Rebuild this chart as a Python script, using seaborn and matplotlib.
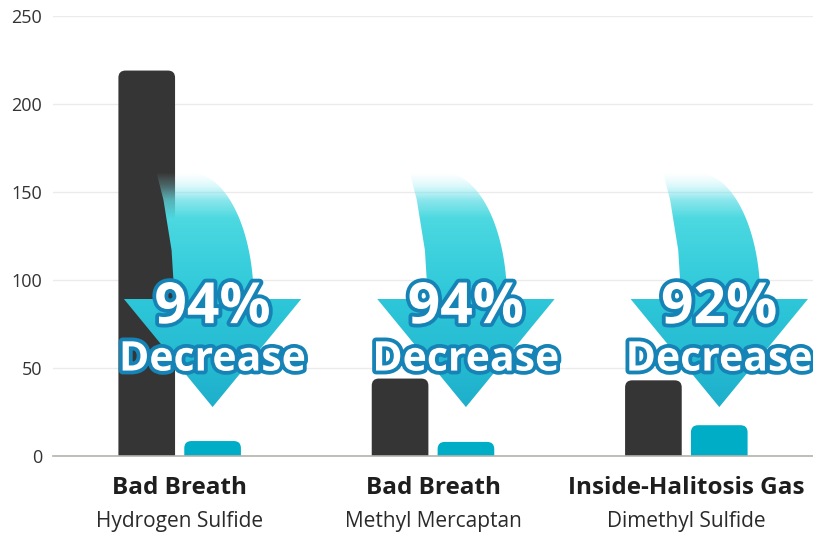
import numpy as np
import pandas as pd
import matplotlib
matplotlib.use("Agg")
import matplotlib.pyplot as plt
import matplotlib.patheffects as pe
from matplotlib.patches import FancyBboxPatch, Polygon
import seaborn as sns

# data
gases = ["Hydrogen Sulfide", "Methyl Mercaptan", "Dimethyl Sulfide"]
headers = ["Bad Breath", "Bad Breath", "Inside-Halitosis Gas"]
before = [219, 44, 43]
after = [8.5, 8, 17.5]
decrease = ["94%", "94%", "92%"]
y_ticks = [0, 50, 100, 150, 200, 250]

DARK = "#353535"
CYAN = "#00adc7"

df = pd.DataFrame({
    "gas": gases * 2,
    "stage": ["before"] * 3 + ["after"] * 3,
    "value": before + after,
})

sns.set_theme(style="white")
plt.rcParams["font.family"] = ["Open Sans", "DejaVu Sans"]

fig = plt.figure(figsize=(8.13, 5.33), dpi=100)
ax = fig.add_axes([53 / 813, 1 - 456 / 533, 1 - 53 / 813, 440 / 533])

sns.barplot(data=df, x="gas", y="value", hue="stage", palette=[DARK, CYAN],
            saturation=1, width=0.52, gap=0.14, legend=False, ax=ax)

ax.set_xlim(-0.5, 2.5)
ax.set_ylim(0, 250)
ax.set_yticks(y_ticks)
ax.set_axisbelow(True)
ax.yaxis.grid(True, color="#ebebeb", lw=1)
for s in ["top", "right", "left"]:
    ax.spines[s].set_visible(False)
ax.spines["bottom"].set_color("#b4b4ac")
ax.spines["bottom"].set_linewidth(1.2)
ax.tick_params(axis="y", length=0, pad=8, labelsize=13, labelcolor="#333333")
ax.tick_params(axis="x", length=0)
ax.set_xlabel("")
ax.set_ylabel("")
ax.set_xticklabels([])

# rounded tops for the bars
bars = list(ax.patches)
aspect = (250 / 440) / (3 / 760)
cyan_centres = []
for i, b in enumerate(bars):
    x, w, h = b.get_x(), b.get_width(), b.get_height()
    r = 0.028
    fb = FancyBboxPatch((x, -6), w, h + 6,
                        boxstyle=f"round,pad=0,rounding_size={r}",
                        mutation_aspect=aspect, fc=b.get_facecolor(),
                        ec="none", zorder=2)
    b.remove()
    ax.add_patch(fb)
    if i >= 3:
        cyan_centres.append(x + w / 2)

# curved gradient arrows
y_top, y_base, y_tip = 160.8, 89.2, 27.8
theta = np.linspace(0, np.pi / 2, 30)
grad_y = np.linspace(y_tip, y_top, 200)
stops_y = [y_tip, y_base, 115, 135, 145, 153, y_top]
stops_c = np.array([
    [0.12, 0.69, 0.80, 1.0],
    [0.18, 0.78, 0.85, 1.0],
    [0.24, 0.82, 0.87, 1.0],
    [0.30, 0.85, 0.88, 1.0],
    [0.38, 0.87, 0.90, 0.75],
    [0.50, 0.91, 0.94, 0.3],
    [0.70, 0.96, 0.98, 0.0],
])
rgba = np.stack([np.interp(grad_y, stops_y, stops_c[:, k]) for k in range(4)], axis=1)
img = rgba[:, None, :]

for cx, pct in zip(cyan_centres, decrease):
    right = [(cx - 0.083 + 0.245 * np.sin(t), y_base + (y_top - y_base) * np.cos(t)) for t in theta]
    pts = ([(cx - 0.221, y_top)] + right +
           [(cx + 0.35, y_base), (cx, y_tip), (cx - 0.35, y_base),
            (cx - 0.150, y_base), (cx - 0.162, 117), (cx - 0.194, 145.5)])
    poly = Polygon(pts, closed=True, fc="none", ec="none")
    ax.add_patch(poly)
    im = ax.imshow(img, extent=[cx - 0.36, cx + 0.36, y_tip, y_top], origin="lower",
                   aspect="auto", zorder=3, interpolation="bilinear")
    im.set_clip_path(poly)

    stroke = [pe.withStroke(linewidth=5.5, foreground="#1683b6")]
    ax.text(cx, 84.0, pct, ha="center", va="center", fontsize=41, fontweight="bold",
            color="white", zorder=5, path_effects=stroke)
    ax.text(cx, 54.5, "Decrease", ha="center", va="center", fontsize=29.5, fontweight="bold",
            color="white", zorder=5, path_effects=stroke)

ax.set_xlim(-0.5, 2.5)
ax.set_ylim(0, 250)

# two-line category labels
trans = ax.get_xaxis_transform()
for xt, head, gas in zip(ax.get_xticks(), headers, gases):
    ax.text(xt, -0.0727, head, transform=trans, ha="center", va="center",
            fontsize=17.5, fontweight="bold", color="#1e1e1e", clip_on=False)
    ax.text(xt, -0.148, gas, transform=trans, ha="center", va="center",
            fontsize=15, color="#2a2a2a", clip_on=False)

fig.savefig("out.png", dpi=100)
